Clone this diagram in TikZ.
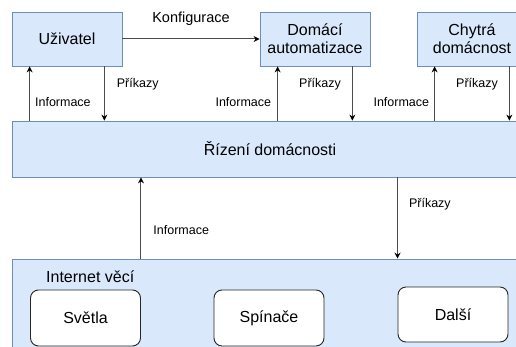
\documentclass[tikz,border=0pt]{standalone}
\usepackage{fontspec}
\setmainfont{Liberation Sans}
\usetikzlibrary{arrows.meta}
\definecolor{layer fill color}{HTML}{DAE8FC}
\definecolor{layer border color}{HTML}{6C8EBF}
\colorlet{link color}{black!70}
\tikzset{
    x={1pt},
    y={-1pt},
    layer box/.style={
        draw=layer border color,
        fill=layer fill color,
        line width={0.8pt},
        align=center,
        inner sep=0pt,
        font={\fontsize{16}{18}\selectfont},
    },
    device box/.style={
        draw=black!85, fill=white,
        rounded corners=8,
        line width={0.9pt},
        inner sep=0pt,
        minimum width={110},
        minimum height={56},
        font={\fontsize{16}{18}\selectfont},
    },
    group label/.style={
        inner sep=0pt,
        font={\fontsize{16}{18}\selectfont},
    },
    link/.style={
        draw=link color,
        line width={1pt},
        -{Stealth[black, length=6pt, width=6pt]},
    },
    link label/.style={
        inner sep=0pt,
        font={\fontsize{12.5}{14}\selectfont},
    },
}

\begin{document}
\begin{tikzpicture}
\useasboundingbox (0,0) rectangle (516,347);
\clip (0,0) rectangle (516,347);
% layers
\node[layer box, minimum width={110}, minimum height={54}] (uzivatel) at (67,39) {Uživatel};
\node[layer box, minimum width={110}, minimum height={54}] (domaci) at (315,39) {Domácí\\automatizace};
\node[layer box, minimum width={110}, minimum height={54}] (chytra) at (472,39) {Chytrá\\domácnost};
\node[layer box, minimum width={516}, minimum height={56}] (rizeni) at (270,149) {Řízení domácnosti};
\node[layer box, minimum width={516}, minimum height={130}] (internet) at (270,324) {};
\node[group label, anchor=west] (iot) at (46,277) {Internet věcí};
% devices
\node[device box] (svetla) at (85.5,318) {Světla};
\node[device box] (spinace) at (269,318) {Spínače};
\node[device box, minimum height={55}] (dalsi) at (453,314.5) {Další};
% attachment points
\coordinate (uzivatel up) at ([xshift=18]uzivatel.south west);
\coordinate (uzivatel down) at ([xshift=-18]uzivatel.south east);
\coordinate (domaci up) at ([xshift=18]domaci.south west);
\coordinate (domaci down) at ([xshift=-18]domaci.south east);
\coordinate (chytra up) at ([xshift=18]chytra.south west);
\coordinate (chytra down) at ([xshift=-18]chytra.south east);
% links
\draw[link] (uzivatel.east) -- node[link label, midway, yshift=20, font={\fontsize{14.5}{16}\selectfont}] {Konfigurace} (domaci.west);
\draw[link] (uzivatel down) -- node[link label, pos=0.33, anchor=west, xshift=12] {Příkazy} (uzivatel down |- rizeni.north);
\draw[link] (uzivatel up |- rizeni.north) -- node[link label, pos=0.35, anchor=west, xshift=5] {Informace} (uzivatel up);
\draw[link] (domaci down) -- node[link label, pos=0.33, anchor=east, xshift=-11] {Příkazy} (domaci down |- rizeni.north);
\draw[link] (domaci up |- rizeni.north) -- node[link label, pos=0.35, anchor=east, xshift=-6] {Informace} (domaci up);
\draw[link] (chytra down) -- node[link label, pos=0.33, anchor=east, xshift=-11] {Příkazy} (chytra down |- rizeni.north);
\draw[link] (chytra up |- rizeni.north) -- node[link label, pos=0.35, anchor=east, xshift=-5] {Informace} (chytra up);
\draw[link] (internet.north -| svetla.east) -- node[link label, pos=0.35, anchor=west, xshift=12] {Informace} (rizeni.south -| svetla.east);
\draw[link] (rizeni.south -| dalsi.west) -- node[link label, pos=0.33, anchor=west, xshift=11] {Příkazy} (internet.north -| dalsi.west);
\end{tikzpicture}
\end{document}
